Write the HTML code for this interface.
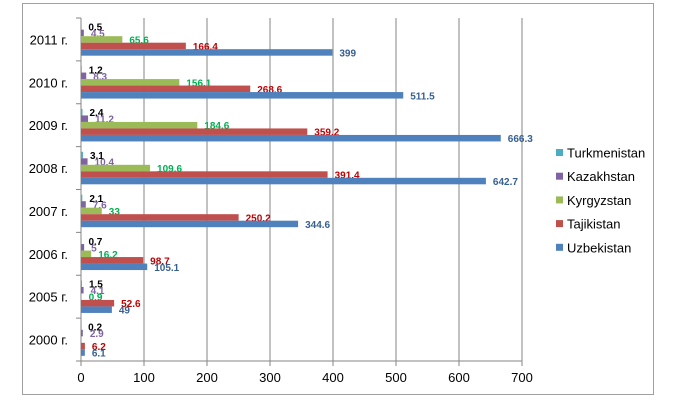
<!DOCTYPE html>
<html><head><meta charset="utf-8"><style>
html,body{margin:0;padding:0;background:#fff;}
svg{display:block;font-family:"Liberation Sans",sans-serif;}
</style></head><body>
<svg id="c" width="675" height="405" xmlns="http://www.w3.org/2000/svg">
<rect x="0" y="0" width="675" height="405" fill="#fff"/>
<rect x="22.5" y="3.5" width="631" height="391" fill="none" stroke="#a0a0a0" stroke-width="1"/>
<g id="g"></g>
</svg>
<script>
(function(){
var g=document.getElementById('g'),ns="http://www.w3.org/2000/svg";
function el(t,a,txt){var e=document.createElementNS(ns,t);for(var k in a)e.setAttribute(k,a[k]);if(txt!=null)e.textContent=txt;g.appendChild(e);return e;}
var x0=81,sc=441/700,T=18,B=361,ch=(B-T)/8,bh=6.5,off=(ch-5*bh)/2;
for(var i=1;i<=7;i++){var x=x0+i*100*sc;el('line',{x1:x,y1:T,x2:x,y2:B,stroke:'#868686','stroke-width':1});}
el('line',{x1:x0,y1:T,x2:x0,y2:B,stroke:'#868686'});
el('line',{x1:x0,y1:B,x2:x0+700*sc,y2:B,stroke:'#868686'});
for(var i=0;i<=8;i++){var y=T+i*ch;el('line',{x1:x0-5,y1:y,x2:x0,y2:y,stroke:'#868686'});}
for(var i=0;i<=7;i++){var x=x0+i*100*sc;el('line',{x1:x,y1:B,x2:x,y2:B+5,stroke:'#868686'});el('text',{x:x,y:B+21,'font-size':13,'text-anchor':'middle',fill:'#000'},String(i*100));}
var cats=['2011 г.','2010 г.','2009 г.','2008 г.','2007 г.','2006 г.','2005 г.','2000 г.'];
var d=[[.5,4.5,65.6,166.4,399],[1.2,8.3,156.1,268.6,511.5],[2.4,11.2,184.6,359.2,666.3],[3.1,10.4,109.6,391.4,642.7],[2.1,7.6,33,250.2,344.6],[.7,5,16.2,98.7,105.1],[1.5,4.1,.9,52.6,49],[.2,2.9,null,6.2,6.1]];
var cols=['#4bacc6','#8064a2','#9bbb59','#c0504d','#4f81bd'];
var lc=['#000','#8064a2','#00b050','#c00000','#376092'];
for(var c=0;c<8;c++){var cy=T+c*ch;
el('text',{x:68,y:cy+ch/2+5,'font-size':13,'text-anchor':'end',fill:'#000'},cats[c]);
for(var s=0;s<5;s++){var v=d[c][s];var y=cy+off+s*bh;if(v==null)continue;var w=v*sc;
el('rect',{x:x0,y:y,width:Math.max(w,0.6),height:bh,fill:cols[s]});
el('text',{x:x0+w+7,y:y+bh/2+4,'font-size':10,'font-weight':'bold',fill:lc[s]},String(v).replace(/^0?\./,'0.'));}}
var ln=['Turkmenistan','Kazakhstan','Kyrgyzstan','Tajikistan','Uzbekistan'];
for(var s=0;s<5;s++){var y=153+s*23.7;el('rect',{x:556,y:y-4,width:7,height:7,fill:cols[s]});el('text',{x:567,y:y+4.5,'font-size':13,fill:'#000'},ln[s]);}
})();
</script>
</body></html>
